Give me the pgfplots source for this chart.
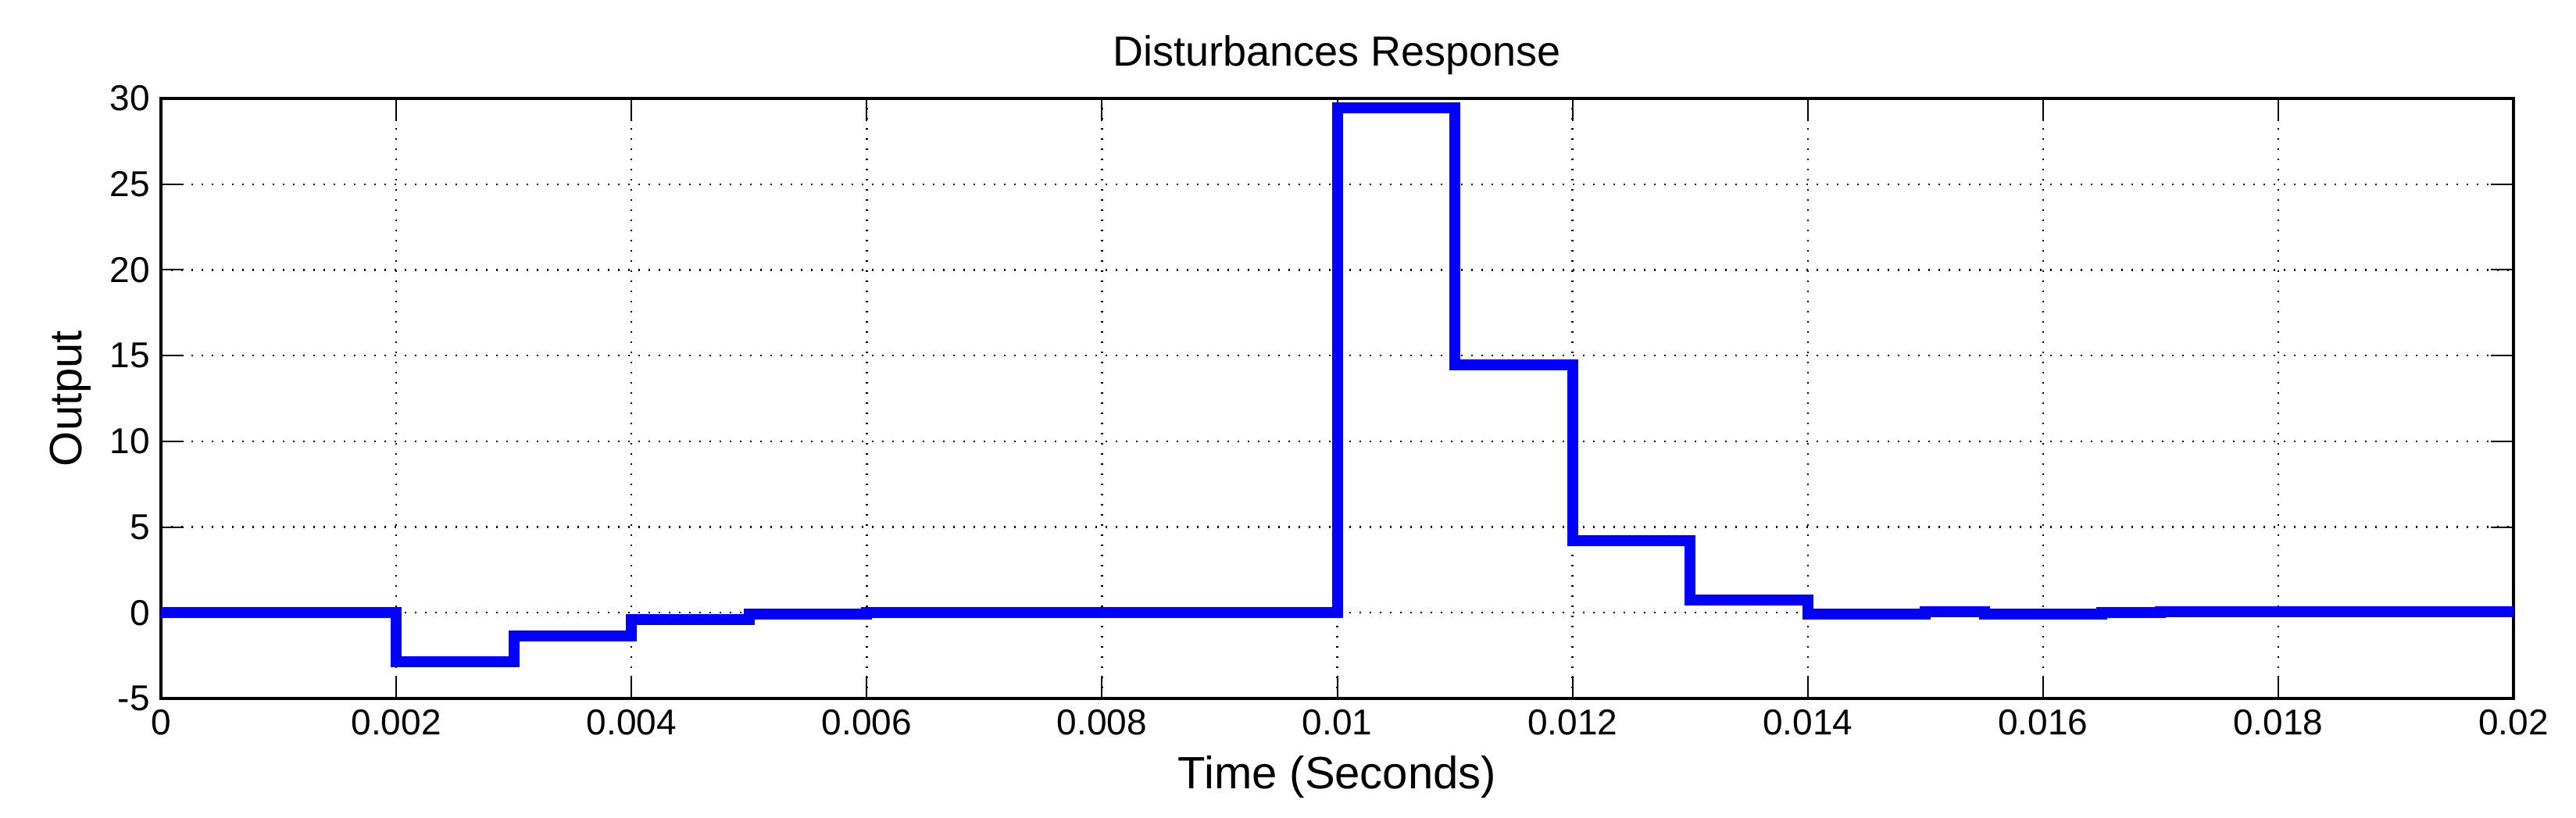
\documentclass[border=0pt]{standalone}
\usepackage{pgfplots}
\pgfplotsset{compat=1.18}
\usepackage{fontspec}
\setmainfont{Liberation Sans}

\begin{document}
\begin{tikzpicture}
\begin{axis}[
    name=ax,
    scale only axis,
    width=752.75pt, height=192pt,
    xmin=0, xmax=0.02,
    ymin=-5, ymax=30,
    xtick={0,0.002,0.004,0.006,0.008,0.01,0.012,0.014,0.016,0.018,0.02},
    xticklabels={0,0.002,0.004,0.006,0.008,0.01,0.012,0.014,0.016,0.018,0.02},
    ytick={-5,0,5,10,15,20,25,30},
    yticklabels={-5,0,5,10,15,20,25,30},
    scaled x ticks=false,
    tick align=inside,
    major tick length=7.3pt,
    tick style={black, line width=0.5pt},
    axis line style={black, line width=0.8pt},
    ticklabel style={font=\fontsize{11.5}{13}\selectfont},
    /pgf/number format/assume math mode=true,
    grid=major,
    major grid style={black, line width=0.6pt, dash pattern=on 0.6pt off 2.65pt},
    title={Disturbances Response},
    title style={font=\fontsize{13.5}{15}\selectfont, at={(axis description cs:0.5,1.041)}, anchor=center, yshift=0pt},
    xlabel={Time (Seconds)},
    xlabel style={font=\fontsize{14.5}{16}\selectfont, at={(axis description cs:0.5,-0.131)}, anchor=center},
    ylabel={Output},
    ylabel style={font=\fontsize{14.5}{16}\selectfont, at={(axis description cs:-0.0385,0.5)}, anchor=center},
]
% step response, held between samples
\addplot[const plot, color={rgb,255:red,0;green,0;blue,255}, line width=3.5pt, line join=miter] coordinates {
    (0,0) (0.002,-2.85) (0.003,-1.35) (0.004,-0.4) (0.005,-0.1) (0.006,0)
    (0.01,29.45) (0.011,14.45) (0.012,4.2) (0.013,0.72) (0.014,-0.07)
    (0.015,0.05) (0.0155,-0.07) (0.0165,0) (0.017,0.05) (0.02,0.05)
};
\end{axis}
\path ([xshift=-51.5pt,yshift=-38.25pt]ax.south west) rectangle ([xshift=20pt,yshift=31.5pt]ax.north east);
\end{tikzpicture}
\end{document}
